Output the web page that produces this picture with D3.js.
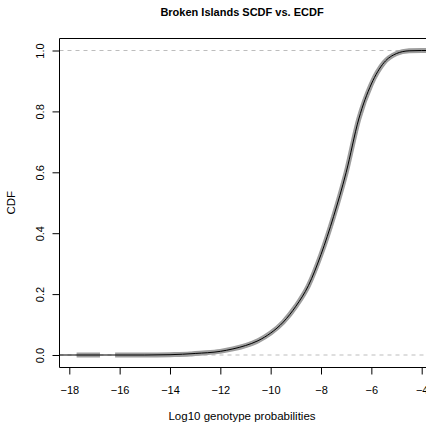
<!DOCTYPE html>
<html>
<head>
<meta charset="utf-8">
<script src="https://cdn.jsdelivr.net/npm/d3@7"></script>
<style>
  html, body { margin: 0; padding: 0; background: #fff; }
  svg { display: block; }
</style>
</head>
<body>
<div id="chart"></div>
<script>
// axis ticks
const xTicks = [-18, -16, -14, -12, -10, -8, -6, -4];
const yTicks = [0, 0.2, 0.4, 0.6, 0.8, 1.0];

// smoothed CDF (black line)
const scdfX = [-18.5, -15, -14, -13, -12, -11.5, -11, -10.5, -10, -9.5, -9, -8.5, -8, -7.5, -7, -6.5, -6, -5.5, -5, -4.5, -4, -3.5];
const scdfY = [0, 0, 0.001, 0.005, 0.012, 0.02, 0.031, 0.047, 0.072, 0.108, 0.16, 0.228, 0.33, 0.455, 0.6, 0.775, 0.89, 0.96, 0.99, 0.999, 1, 1];

// empirical CDF (thick grey band), null marks the gap with no data
const ecdfX = [-17.71, -16.78, null, -16.18, -15, -14, -13.2, -13, -12, -11.5, -11, -10.5, -10, -9.5, -9, -8.5, -8, -7.5, -7, -6.5, -6, -5.5, -5, -4.5, -4, -3.5];
const ecdfY = [0, 0, null, 0, 0, 0.001, 0.003, 0.005, 0.012, 0.02, 0.031, 0.047, 0.072, 0.108, 0.16, 0.228, 0.33, 0.455, 0.6, 0.775, 0.89, 0.96, 0.99, 0.999, 1, 1];

const width = 426;
const height = 423;

const x = d3.scaleLinear().domain([-18, -4]).range([69.3, 421.7]);
const y = d3.scaleLinear().domain([0, 1]).range([355, 50.5]);

const box = { left: 59.5, right: 427, top: 38.5, bottom: 367.5 };

const svg = d3.select('#chart')
  .append('svg')
  .attr('width', width)
  .attr('height', height)
  .attr('font-family', 'Liberation Sans, Arial, sans-serif');

svg.append('defs').append('clipPath')
  .attr('id', 'plot-clip')
  .append('rect')
  .attr('x', box.left)
  .attr('y', box.top)
  .attr('width', box.right - box.left)
  .attr('height', box.bottom - box.top);

const plot = svg.append('g').attr('clip-path', 'url(#plot-clip)');

// reference lines at 0 and 1
plot.selectAll('line.ref')
  .data([0, 1])
  .join('line')
  .attr('class', 'ref')
  .attr('x1', box.left)
  .attr('x2', box.right)
  .attr('y1', (d) => y(d))
  .attr('y2', (d) => y(d))
  .attr('stroke', '#bdbdbd')
  .attr('stroke-width', 1)
  .attr('stroke-dasharray', '4,4');

const ecdf = ecdfX.map((v, i) => ({ x: v, y: ecdfY[i] }));
const scdf = scdfX.map((v, i) => ({ x: v, y: scdfY[i] }));

const line = d3.line()
  .defined((d) => d.x !== null)
  .x((d) => x(d.x))
  .y((d) => y(d.y))
  .curve(d3.curveMonotoneX);

plot.append('path')
  .datum(ecdf)
  .attr('d', line)
  .attr('fill', 'none')
  .attr('stroke', '#9e9e9e')
  .attr('stroke-width', 5);

plot.append('path')
  .datum(scdf)
  .attr('d', line)
  .attr('fill', 'none')
  .attr('stroke', '#000')
  .attr('stroke-width', 1);

// box (right side falls off the canvas)
svg.append('path')
  .attr('d', `M${box.right},${box.top}H${box.left}V${box.bottom}H${box.right}`)
  .attr('fill', 'none')
  .attr('stroke', '#000')
  .attr('stroke-width', 1);

// axes
const xAxis = svg.append('g')
  .attr('transform', `translate(0,${box.bottom})`)
  .call(d3.axisBottom(x).tickValues(xTicks).tickSize(7).tickPadding(12).tickFormat(d3.format('d')));
xAxis.select('.domain').remove();
xAxis.selectAll('text').attr('font-size', 11).attr('fill', '#000').attr('font-family', null);
xAxis.selectAll('line').attr('stroke', '#000');

const yAxis = svg.append('g')
  .attr('transform', `translate(${box.left},0)`)
  .call(d3.axisLeft(y).tickValues(yTicks).tickSize(7).tickFormat(d3.format('.1f')));
yAxis.select('.domain').remove();
yAxis.selectAll('line').attr('stroke', '#000');
yAxis.selectAll('text')
  .attr('font-size', 11)
  .attr('fill', '#000')
  .attr('font-family', null)
  .attr('text-anchor', 'middle')
  .attr('x', null)
  .attr('y', 0)
  .attr('dy', '0')
  .attr('transform', 'translate(-16,0) rotate(-90)');

// titles
svg.append('text')
  .attr('x', 242)
  .attr('y', 16)
  .attr('text-anchor', 'middle')
  .attr('font-size', 11)
  .attr('font-weight', 'bold')
  .text('Broken Islands SCDF vs. ECDF');

svg.append('text')
  .attr('x', 242)
  .attr('y', 420)
  .attr('text-anchor', 'middle')
  .attr('font-size', 11.5)
  .text('Log10 genotype probabilities');

svg.append('text')
  .attr('transform', `translate(15,${y(0.5)}) rotate(-90)`)
  .attr('text-anchor', 'middle')
  .attr('font-size', 11.5)
  .text('CDF');
</script>
</body>
</html>
